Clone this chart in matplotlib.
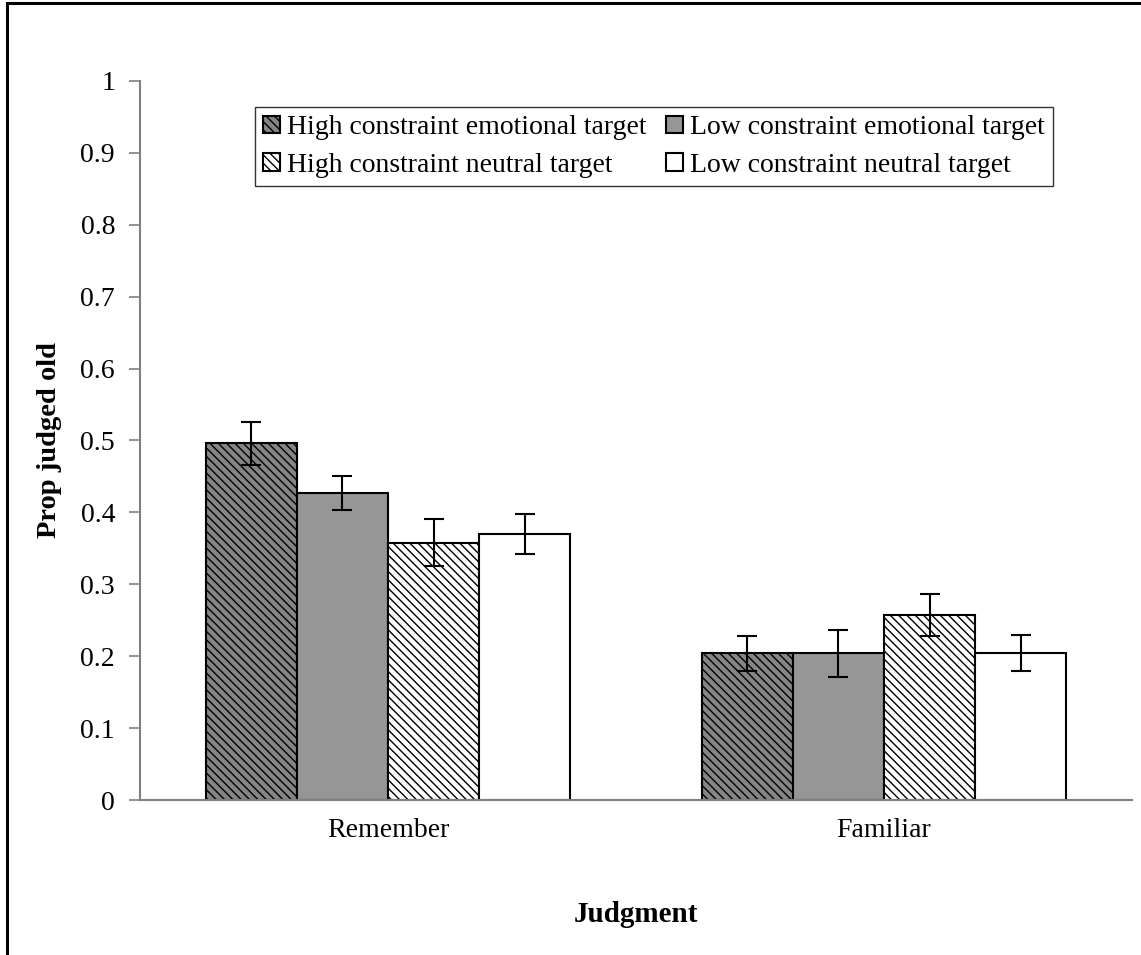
import matplotlib
matplotlib.use("Agg")
import matplotlib.pyplot as plt
import numpy as np
from matplotlib.patches import Rectangle

plt.rcParams['font.family'] = ['Liberation Serif', 'DejaVu Serif']
plt.rcParams['hatch.linewidth'] = 1.0

categories = ["Remember", "Familiar"]
series = ["High constraint emotional target", "Low constraint emotional target",
          "High constraint neutral target", "Low constraint neutral target"]
values = {
    "High constraint emotional target": [0.496, 0.204],
    "Low constraint emotional target": [0.427, 0.204],
    "High constraint neutral target": [0.358, 0.257],
    "Low constraint neutral target": [0.370, 0.204],
}
errors = {
    "High constraint emotional target": [0.030, 0.024],
    "Low constraint emotional target": [0.023, 0.033],
    "High constraint neutral target": [0.033, 0.029],
    "Low constraint neutral target": [0.028, 0.025],
}
yticks = [0, 0.1, 0.2, 0.3, 0.4, 0.5, 0.6, 0.7, 0.8, 0.9, 1]
ytick_labels = ["0", "0.1", "0.2", "0.3", "0.4", "0.5", "0.6", "0.7", "0.8", "0.9", "1"]

styles = [
    dict(facecolor="#858585", hatch="\\\\\\\\"),
    dict(facecolor="#969696", hatch=None),
    dict(facecolor="white", hatch="\\\\\\\\"),
    dict(facecolor="white", hatch=None),
]

fig = plt.figure(figsize=(11.41, 9.55), dpi=100)
ax = fig.add_axes([140/1141, 155/955, 992/1141, 719/955])

x = np.arange(len(categories))
w = 0.1835
handles = []
for i, s in enumerate(series):
    pos = x + (i - 1.5) * w
    bars = ax.bar(pos, values[s], width=w, edgecolor="black", linewidth=1.5,
                  label=s, zorder=2, **styles[i])
    ax.errorbar(pos, values[s], yerr=errors[s], fmt="none", ecolor="black",
                elinewidth=1.5, capsize=7.5, capthick=1.5, zorder=3)
    handles.append(bars)

ax.set_xlim(-0.5, 1.5)
ax.set_ylim(0, 1)
ax.set_yticks(yticks)
ax.set_yticklabels(ytick_labels, fontsize=20)
ax.set_xticks(x)
ax.set_xticklabels(categories, fontsize=20)
ax.tick_params(axis="x", length=0, pad=13)
ax.tick_params(axis="y", length=8, width=1.2, color="#808080", pad=10, direction="out")
for sp in ["top", "right"]:
    ax.spines[sp].set_visible(False)
ax.spines["left"].set_color("#808080")
ax.spines["left"].set_linewidth(1.5)
ax.spines["bottom"].set_color("#808080")
ax.spines["bottom"].set_linewidth(1.5)

ax.set_ylabel("Prop judged old", fontsize=20.5, fontweight="bold", labelpad=13)
ax.set_xlabel("Judgment", fontsize=21, fontweight="bold", labelpad=42)

order = [0, 2, 1, 3]
leg = fig.legend(handles=[handles[i] for i in order], labels=[series[i] for i in order], ncol=2,
                 loc="upper left", bbox_to_anchor=(255/1141, 1 - 107/955),
                 fontsize=20, frameon=True, fancybox=False, edgecolor="black",
                 handlelength=0.6, handleheight=0.6, handletextpad=0.25,
                 columnspacing=0.7, borderpad=0.3, labelspacing=0.45,
                 borderaxespad=0)
leg.get_frame().set_linewidth(1.0)

# outer border
fig.add_artist(Rectangle((7/1141, -0.01), 1.2, 1 - 3/955 + 0.01, transform=fig.transFigure,
                         fill=False, edgecolor="black", linewidth=2.2))

fig.savefig("out.png", dpi=100)
